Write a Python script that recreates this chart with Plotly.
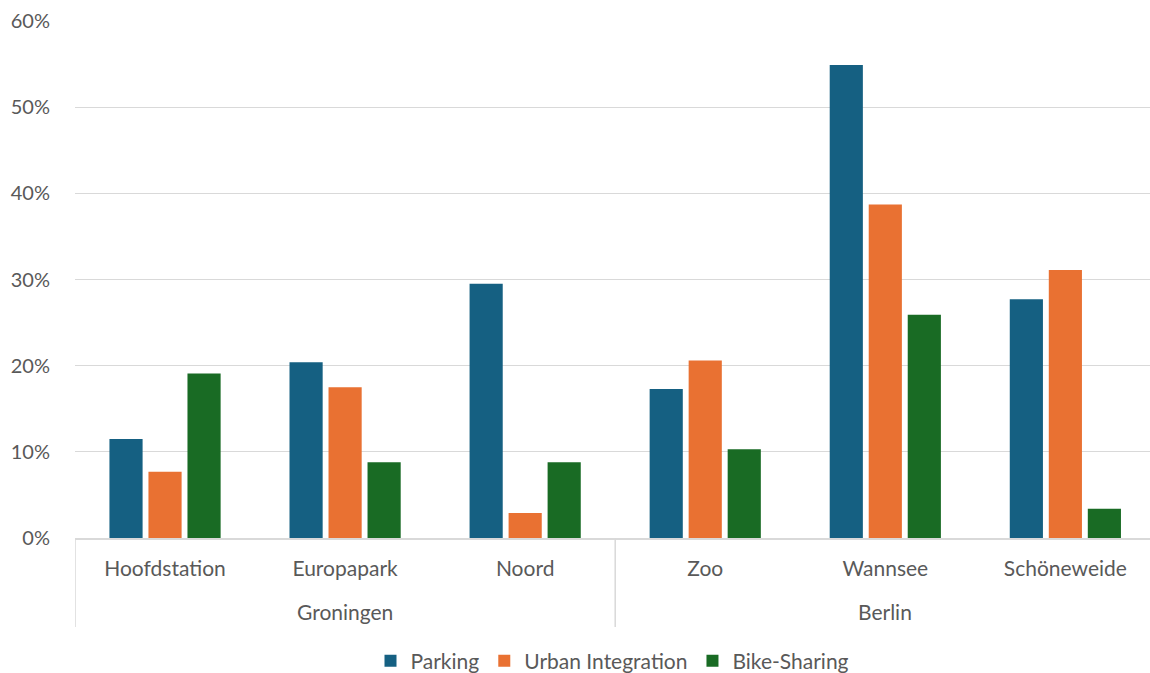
import plotly.graph_objects as go

groups = ["Groningen", "Groningen", "Groningen", "Berlin", "Berlin", "Berlin"]
stations = ["Hoofdstation", "Europapark", "Noord", "Zoo", "Wannsee", "Schöneweide"]
parking = [0.115, 0.204, 0.295, 0.173, 0.549, 0.277]
urban = [0.077, 0.175, 0.029, 0.206, 0.387, 0.311]
bike = [0.191, 0.088, 0.088, 0.103, 0.259, 0.034]

series = [("Parking", parking, "#156082"),
          ("Urban Integration", urban, "#E97132"),
          ("Bike-Sharing", bike, "#196B24")]

xs = list(range(len(stations)))
fig = go.Figure()
for name, vals, col in series:
    fig.add_trace(go.Bar(x=xs, y=vals, name=name,
                         marker=dict(color=col, line=dict(width=0))))

PLOT_H = 517
GRID = "#D9D9D9"
TXT = "#595959"
font = "Lato, 'Noto Sans', sans-serif"

# group labels and dividers
bounds = [-0.5]
labels = []
start = 0
for i in range(1, len(groups) + 1):
    if i == len(groups) or groups[i] != groups[start]:
        labels.append((groups[start], (start + i - 1) / 2))
        bounds.append(i - 0.5)
        start = i
bounds = bounds[:-1]  # right edge divider falls outside the visible area

shapes = [dict(type="line", xref="x", yref="paper", x0=b, x1=b, y0=0, y1=-89 / PLOT_H,
               line=dict(color=GRID, width=1.5)) for b in bounds]
annotations = [dict(text=g, x=c, xref="x", y=-73 / PLOT_H, yref="paper",
                    showarrow=False, yanchor="middle", xanchor="center",
                    font=dict(size=21, color=TXT, family=font)) for g, c in labels]

fig.update_layout(
    width=1150, height=673,
    margin=dict(l=75, r=0, t=21, b=135, autoexpand=False),
    paper_bgcolor="white", plot_bgcolor="white",
    barmode="group", bargap=0.35, bargroupgap=0.15,
    font=dict(family=font, size=21, color=TXT),
    legend=dict(orientation="h", x=0.5, xanchor="center", y=-123 / PLOT_H, yanchor="middle",
                font=dict(size=21, color=TXT), traceorder="normal"),
    showlegend=True,
    shapes=shapes, annotations=annotations,
)
fig.update_yaxes(range=[0, 0.6], dtick=0.1, tickformat=".0%", automargin=False,
                 showgrid=True, gridcolor=GRID, gridwidth=1,
                 zeroline=False, showline=False,
                 ticks="outside", ticklen=20, tickcolor="rgba(0,0,0,0)",
                 tickfont=dict(size=20, color=TXT))
fig.update_xaxes(range=[-0.5, len(stations) - 0.53], automargin=False,
                 tickvals=xs, ticktext=stations,
                 showline=True, linecolor=GRID, linewidth=2,
                 showgrid=False, zeroline=False,
                 ticks="outside", ticklen=11, tickcolor="rgba(0,0,0,0)",
                 tickfont=dict(size=21, color=TXT))

fig.write_html("out.html")
